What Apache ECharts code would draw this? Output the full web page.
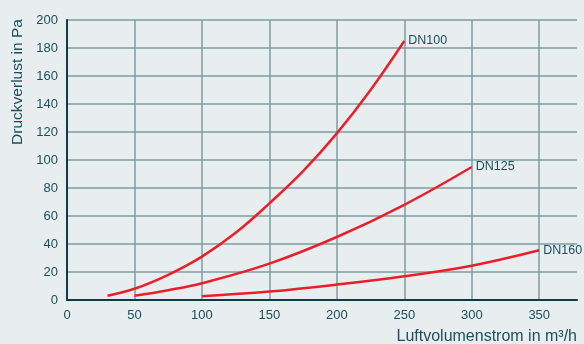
<!DOCTYPE html>
<html>
<head>
<meta charset="utf-8">
<script src="https://cdn.jsdelivr.net/npm/echarts@6/dist/echarts.min.js"></script>
<style>
html,body{margin:0;padding:0;background:#e8eef0;}
#c{width:584px;height:344px;}
</style>
</head>
<body>
<div id="c"></div>
<script>
// Data
const seriesNames = ['DN100', 'DN125', 'DN160'];
const dn100X = [30, 50, 75, 100, 125, 150, 175, 200, 225, 250];
const dn100Y = [3, 8, 18, 31, 48, 69, 92, 119, 150, 185];
const dn125X = [50, 75, 100, 150, 200, 250, 300];
const dn125Y = [3, 7, 12, 26, 45, 68, 95];
const dn160X = [100, 150, 200, 250, 300, 350];
const dn160Y = [2.6, 6, 11, 17, 24.5, 35.5];
const xTicks = [0, 50, 100, 150, 200, 250, 300, 350];
const yTicks = [0, 20, 40, 60, 80, 100, 120, 140, 160, 180, 200];
const xTitle = 'Luftvolumenstrom in m³/h';
const yTitle = 'Druckverlust in Pa';

const pair = (xs, ys) => xs.map((x, i) => [x, ys[i]]);
const FONT = '"Liberation Sans", Arial, sans-serif';
const TEXT = '#1d4e59';
const RED = '#e8202a';

const chart = echarts.init(document.getElementById('c'));
const mk = (name, xs, ys) => ({
  name, type: 'line', smooth: 0.4, symbol: 'none',
  data: pair(xs, ys),
  lineStyle: { color: RED, width: 2.5 },
  endLabel: { show: true, formatter: name, color: TEXT, fontSize: 12.5, fontFamily: FONT, distance: 4 }
});
chart.setOption({
  backgroundColor: '#e8eef0',
  animation: false,
  grid: { left: 67, top: 20, right: 7, bottom: 44 },
  xAxis: {
    type: 'value', min: 0, max: 378, interval: 50,
    axisLine: { lineStyle: { color: '#0d3c46', width: 2 } },
    axisTick: { show: false },
    axisLabel: { color: TEXT, fontSize: 13, fontFamily: FONT, margin: 9, showMaxLabel: false,
      formatter: v => xTicks.includes(v) ? String(v) : '' },
    splitLine: { show: true, showMinLine: false, showMaxLine: false, lineStyle: { color: '#7d9ca2', width: 1.5 } }
  },
  yAxis: {
    type: 'value', min: 0, max: 200, interval: 20,
    axisLine: { show: true, lineStyle: { color: '#0d3c46', width: 2 } },
    axisTick: { show: false },
    axisLabel: { color: TEXT, fontSize: 13, fontFamily: FONT, margin: 9,
      formatter: v => yTicks.includes(v) ? String(v) : '' },
    splitLine: { show: true, showMinLine: false, lineStyle: { color: '#7d9ca2', width: 1.5 } }
  },
  graphic: [
    { type: 'text', x: 577, y: 345, style: { text: xTitle, fill: TEXT, font: '16px ' + FONT, textAlign: 'right', textVerticalAlign: 'bottom' } },
    { type: 'text', x: 17.5, y: 82, rotation: Math.PI / 2, style: { text: yTitle, fill: TEXT, font: '15.5px ' + FONT, textAlign: 'center', textVerticalAlign: 'middle' } }
  ],
  series: [
    mk(seriesNames[0], dn100X, dn100Y),
    mk(seriesNames[1], dn125X, dn125Y),
    mk(seriesNames[2], dn160X, dn160Y)
  ]
});
</script>
</body>
</html>
